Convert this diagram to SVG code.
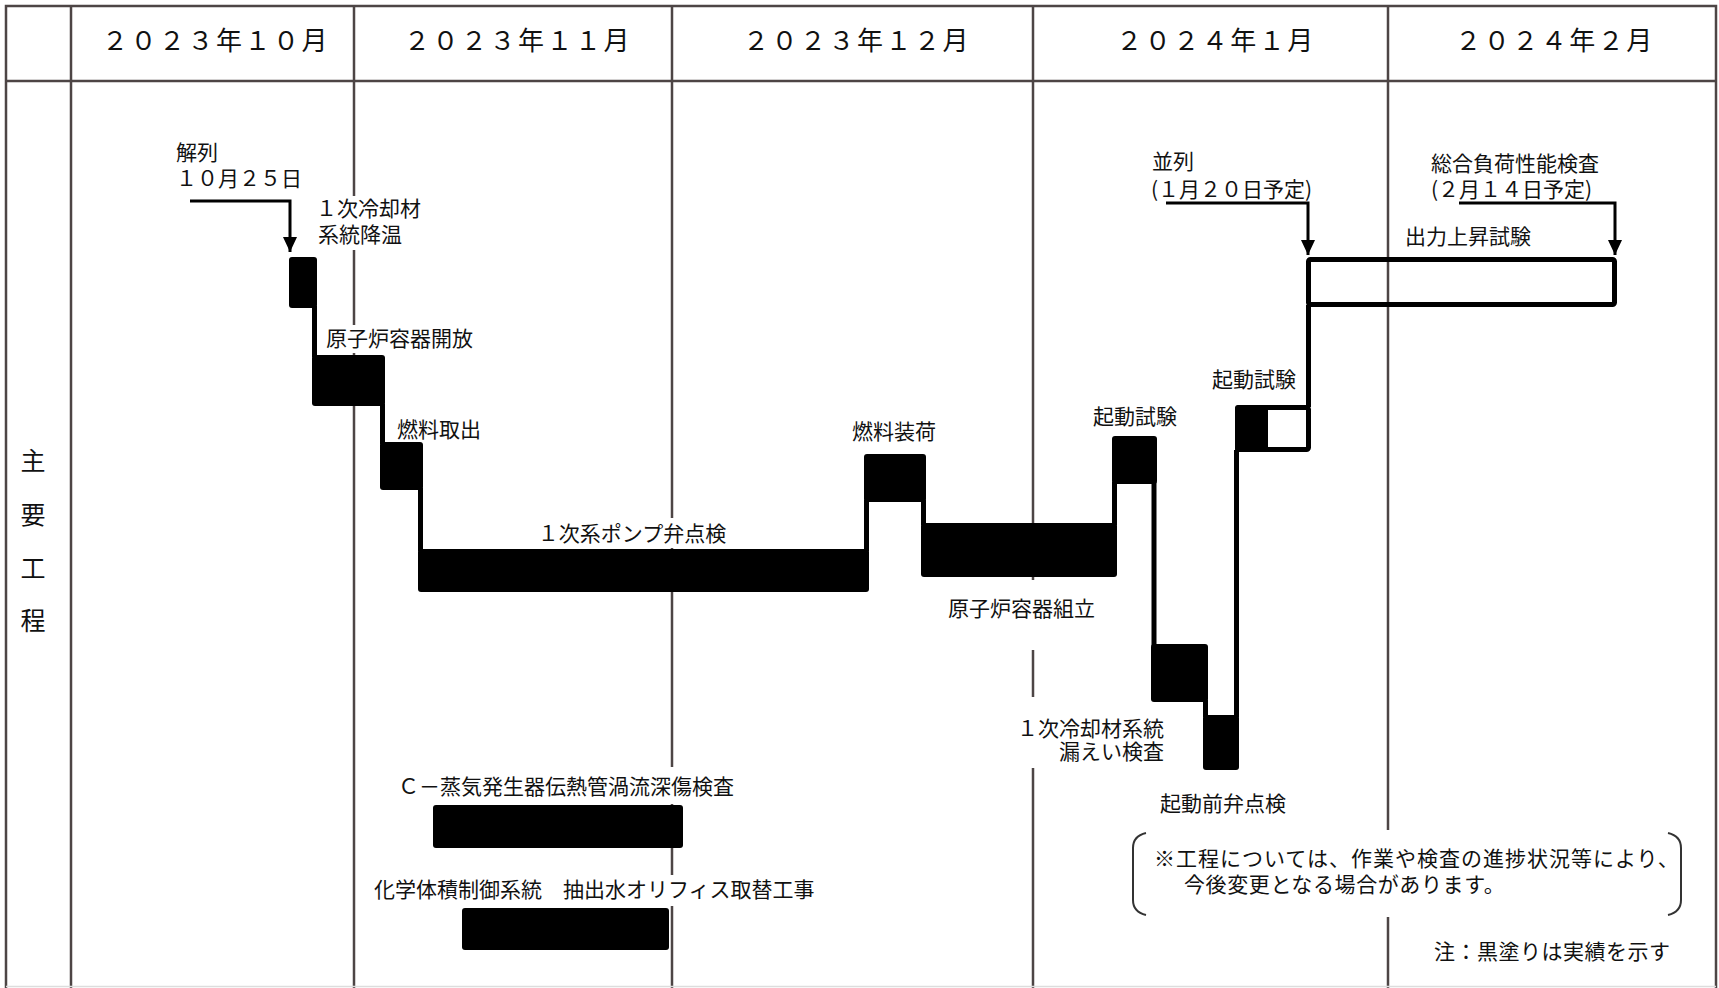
<svg xmlns="http://www.w3.org/2000/svg" width="1719" height="988" viewBox="0 0 1719 988">
<style>
.grid{stroke:#4d4545;stroke-width:2.5;fill:none}
.bg{fill:#fff}
.blk{fill:#000}
.con{stroke:#000;stroke-width:5;fill:none}
.arr{stroke:#000;stroke-width:3;fill:none}
text{font-family:"Noto Sans CJK JP","Noto Sans CJK SC",sans-serif;fill:#111}
.hd{font-size:26px;letter-spacing:2.5px;text-anchor:middle}
.lb{font-size:21px}
.br{stroke:#333;stroke-width:2;fill:none}
</style>
<defs>
<marker id="ah" markerUnits="userSpaceOnUse" markerWidth="16" markerHeight="18" refX="7" refY="15" orient="0">
<polygon points="0,0 14,0 7,15" fill="#000"/>
</marker>
</defs>
<rect x="0" y="0" width="1719" height="988" fill="#fff"/>
<g id="grid">
<rect class="grid" x="6" y="6" width="1710" height="990"/>
<line class="grid" x1="6" y1="81" x2="1716" y2="81"/>
<line class="grid" x1="71" y1="6" x2="71" y2="988"/>
<line class="grid" x1="354" y1="6" x2="354" y2="988"/>
<line class="grid" x1="672" y1="6" x2="672" y2="988"/>
<line class="grid" x1="1033" y1="6" x2="1033" y2="988"/>
<line class="grid" x1="1388" y1="6" x2="1388" y2="988"/>
<line x1="6" y1="986.5" x2="1716" y2="986.5" stroke="#ddd" stroke-width="1.5"/>
</g>
<g id="header">
<text class="hd" x="216" y="50">２０２３年１０月</text>
<text class="hd" x="518" y="50">２０２３年１１月</text>
<text class="hd" x="857" y="50">２０２３年１２月</text>
<text class="hd" x="1216" y="50">２０２４年１月</text>
<text class="hd" x="1555" y="50">２０２４年２月</text>
<text class="lb" style="font-size:25px" text-anchor="middle"><tspan x="33" y="470">主</tspan><tspan x="33" y="524">要</tspan><tspan x="33" y="578">工</tspan><tspan x="33" y="630">程</tspan></text>
</g>
<g id="label-bg">
<rect class="bg" x="316" y="196" width="112" height="54"/>
<rect class="bg" x="322" y="325" width="158" height="28"/>
<rect class="bg" x="527" y="518" width="205" height="30"/>
<rect class="bg" x="940" y="580" width="165" height="70"/>
<rect class="bg" x="1015" y="697" width="155" height="71"/>
<rect class="bg" x="395" y="767" width="345" height="37"/>
<rect class="bg" x="370" y="875" width="460" height="31"/>
<rect class="bg" x="1128" y="830" width="560" height="87"/>
</g>
<g id="connectors">
<path class="con" d="M314.5 306V357"/>
<path class="con" d="M382.5 404V444"/>
<path class="con" d="M420.5 488V551"/>
<path class="con" d="M866.5 551V500"/>
<path class="con" d="M923.5 500V525"/>
<path class="con" d="M1114.5 525V482"/>
<path class="con" d="M1154 482V646"/>
<path class="con" d="M1205.5 700V717"/>
<path class="con" d="M1236.5 717V450"/>
<path class="con" d="M1308.5 407V305"/>
<path class="arr" d="M190 201H290V252" marker-end="url(#ah)"/>
<path class="arr" d="M1166 203H1308V255" marker-end="url(#ah)"/>
<path class="arr" d="M1459 203H1615V255" marker-end="url(#ah)"/>
</g>
<g id="n-kairetsu">
<text class="lb" x="176" y="160">解列</text>
<text class="lb" x="176" y="186">１０月２５日</text>
</g>
<g id="n-kouon">
<rect class="blk" x="289" y="257" width="28" height="51" rx="3"/>
<text class="lb" x="316" y="216">１次冷却材</text>
<text class="lb" x="318" y="242">系統降温</text>
</g>
<g id="n-kaihou">
<rect class="blk" x="312" y="355" width="73" height="51" rx="3"/>
<text class="lb" x="326" y="346">原子炉容器開放</text>
</g>
<g id="n-toridashi">
<rect class="blk" x="380" y="442" width="43" height="48" rx="3"/>
<text class="lb" x="397" y="437">燃料取出</text>
</g>
<g id="n-pump">
<rect class="blk" x="418" y="549" width="451" height="43" rx="3"/>
<text class="lb" x="632" y="541" text-anchor="middle">１次系ポンプ弁点検</text>
</g>
<g id="n-souka">
<rect class="blk" x="864" y="454" width="62" height="48" rx="3"/>
<text class="lb" x="852" y="439">燃料装荷</text>
</g>
<g id="n-kumitate">
<rect class="blk" x="921" y="523" width="196" height="54" rx="3"/>
<text class="lb" x="948" y="616">原子炉容器組立</text>
</g>
<g id="n-kidou1">
<rect class="blk" x="1112" y="436" width="45" height="48" rx="3"/>
<text class="lb" x="1093" y="424">起動試験</text>
</g>
<g id="n-moreei">
<rect class="blk" x="1151" y="644" width="57" height="58" rx="3"/>
<text class="lb" x="1164" y="736" text-anchor="end">１次冷却材系統</text>
<text class="lb" x="1164" y="759" text-anchor="end">漏えい検査</text>
</g>
<g id="n-kidoumae">
<rect class="blk" x="1203" y="715" width="36" height="55" rx="3"/>
<text class="lb" x="1160" y="811">起動前弁点検</text>
</g>
<g id="n-kidou2">
<rect x="1237.5" y="407.5" width="71" height="42" fill="#fff" stroke="#000" stroke-width="5" rx="2"/>
<rect class="blk" x="1235" y="405" width="33" height="47" rx="3"/>
<text class="lb" x="1212" y="387">起動試験</text>
</g>
<g id="n-shutsuryoku">
<rect x="1308.5" y="259.5" width="306" height="45" fill="none" stroke="#000" stroke-width="5" rx="2"/>
<text class="lb" x="1405" y="244">出力上昇試験</text>
</g>
<g id="n-heiretsu">
<text class="lb" x="1152" y="169">並列</text>
<text class="lb" x="1151" y="197">(１月２０日予定)</text>
</g>
<g id="n-sougou">
<text class="lb" x="1431" y="171">総合負荷性能検査</text>
<text class="lb" x="1431" y="197">(２月１４日予定)</text>
</g>
<g id="n-sg">
<rect class="blk" x="433" y="805" width="250" height="43" rx="3"/>
<text class="lb" x="398" y="794">Ｃ－蒸気発生器伝熱管渦流深傷検査</text>
</g>
<g id="n-orifice">
<rect class="blk" x="462" y="908" width="207" height="42" rx="3"/>
<text class="lb" x="374" y="897">化学体積制御系統　抽出水オリフィス取替工事</text>
</g>
<g id="note">
<path class="br" d="M1146 833Q1133 836 1133 848V900Q1133 912 1146 915"/>
<path class="br" d="M1668 833Q1681 836 1681 848V900Q1681 912 1668 915"/>
<text class="lb" x="1154" y="866" letter-spacing="1">※工程については、作業や検査の進捗状況等により、</text>
<text class="lb" x="1184" y="892" letter-spacing="0.6">今後変更となる場合があります。</text>
<text class="lb" x="1434" y="959" letter-spacing="0.5">注：黒塗りは実績を示す</text>
</g>
</svg>
